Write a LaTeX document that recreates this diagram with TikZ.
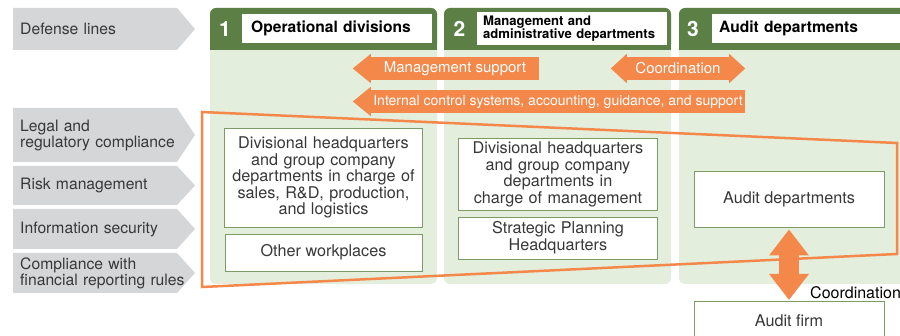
\documentclass[tikz,border=0pt]{standalone}
\usepackage{fontspec}
\setmainfont{TeX Gyre Heros}
\usetikzlibrary{arrows.meta,positioning}
\definecolor{lgray}{HTML}{D5D6D8}
\definecolor{tgray}{HTML}{383838}
\definecolor{dgreen}{HTML}{5B7F45}
\definecolor{lgreen}{HTML}{E3EFDC}
\definecolor{bgreen}{HTML}{7D9B66}
\definecolor{orng}{HTML}{F4884A}
\tikzstyle{lbl} = [anchor=west, text=tgray, text width=172pt, align=left, inner sep=0pt,
    font=\fontsize{15.7}{16}\selectfont]
\tikzstyle{num} = [text=white, font=\bfseries\fontsize{21}{21}\selectfont]
\tikzstyle{hd} = [anchor=west, fill=white, text=black, align=left, inner xsep=9pt,
    minimum height=29pt, font=\bfseries\fontsize{15.6}{15}\selectfont]
\tikzstyle{bx} = [rectangle, draw=bgreen, line width=0.9pt, fill=white, text=tgray,
    align=center, font=\fontsize{16.2}{16.6}\selectfont]
\tikzstyle{obody} = [fill=orng, text=white, inner sep=0pt, minimum height=23pt,
    font=\fontsize{15}{15}\selectfont]

\begin{document}
\begin{tikzpicture}[x=1pt,y=-1pt]
  \useasboundingbox (0,0) rectangle (900,336);
  \clip (0,0) rectangle (900,336);

  % side labels
  \foreach \t/\b/\n/\s in {8/50/def/{Defense lines},
      108/162/legal/{Legal and\\regulatory compliance},
      166/205/risk/{Risk management},
      209/249/info/{Information security},
      253/293/fin/{Compliance with\\financial reporting rules}}
  {
    \fill[lgray] (13,\t) -- (177,\t) -- (195,{(\t+\b)/2}) -- (177,\b) -- (13,\b) -- cycle;
    \node[lbl] (\n) at (20,{(\t+\b)/2}) {\s};
  }

  % columns
  \foreach \x/\w in {210/227, 444/227, 679/240}{
    \fill[lgreen, rounded corners=6pt] (\x,8) rectangle ++(\w,276);
    \fill[dgreen, rounded corners=6pt] (\x,8) rectangle ++(\w,42);
    \fill[dgreen] (\x,30) rectangle ++(\w,20);
  }
  \node[num] (n1) at (225,29) {1};
  \node[num] (n2) at (459.5,29) {2};
  \node[num] (n3) at (693,29) {3};
  \node[hd, text width=172pt] (h1) at (242,28.5) {Operational divisions};
  \node[hd, text width=178pt, inner xsep=6pt, font=\bfseries\fontsize{13.1}{12.5}\selectfont]
    (h2) at (477,28.5) {Management and\\administrative departments};
  \node[hd, text width=200pt, inner xsep=7pt] (h3) at (712,28.5) {Audit departments};

  % orange flows
  \node[obody, minimum width=168pt] (msup) at (455,68.5) {Management support};
  \fill[orng] ([yshift=3pt]msup.north west) -- ([xshift=-18pt]msup.west)
    -- ([yshift=-3pt]msup.south west) -- cycle;
  \node[obody, minimum width=102pt] (coord) at (678,68.5) {Coordination};
  \fill[orng] ([yshift=3pt]coord.north west) -- ([xshift=-16pt]coord.west)
    -- ([yshift=-3pt]coord.south west) -- cycle;
  \fill[orng] ([yshift=3pt]coord.north east) -- ([xshift=16pt]coord.east)
    -- ([yshift=-3pt]coord.south east) -- cycle;
  \node[obody, minimum width=374pt, font=\fontsize{14}{14}\selectfont] (ictl) at (558,101.5)
    {Internal control systems, accounting, guidance, and support};
  \fill[orng] ([yshift=3pt]ictl.north west) -- ([xshift=-18pt]ictl.west)
    -- ([yshift=-3pt]ictl.south west) -- cycle;

  % scope of internal control
  \draw[orng, line width=2.5pt, line join=miter] (202,112) -- (897,143) -- (897,254) -- (202,287) -- cycle;

  % boxes
  \node[bx, minimum width=197pt, minimum height=99pt, text width=192pt] (divhq) at (323.5,177.5)
    {Divisional headquarters\\and group company\\departments in charge of\\sales, R\&D, production,\\and logistics};
  \node[bx, minimum width=197pt, minimum height=37pt] (other) at (323.5,252.5) {Other workplaces};
  \node[bx, minimum width=198pt, minimum height=71pt, text width=192pt] (mgthq) at (558,174.5)
    {Divisional headquarters\\and group company\\departments in\\charge of management};
  \node[bx, minimum width=198pt, minimum height=42pt, text width=192pt] (sphq) at (558,238)
    {Strategic Planning\\Headquarters};
  \node[bx, minimum width=190pt, minimum height=56pt] (audit) at (789,199) {Audit departments};
  \node[bx, minimum width=190pt, minimum height=38pt, anchor=north] (firm) at (789,301) {Audit firm};

  \draw[orng, line width=20pt, {Triangle[width=38pt,length=26pt]}-{Triangle[width=38pt,length=26pt]}]
    ([yshift=-2pt]audit.south) -- ([yshift=1pt]firm.north);
  \node[anchor=west, inner sep=0pt, text=black, font=\fontsize{16}{16}\selectfont] (crd) at (810,293) {Coordination};
\end{tikzpicture}
\end{document}
